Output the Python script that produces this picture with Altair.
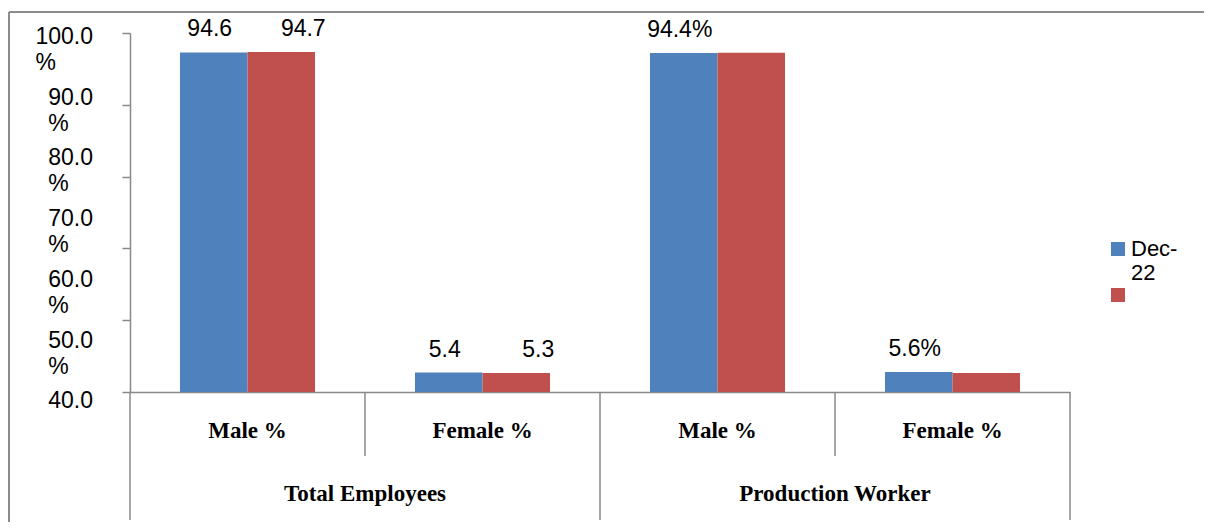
import altair as alt
import pandas as pd

# ---- data ----
groups = ["Total Employees", "Total Employees", "Production Worker", "Production Worker"]
subcats = ["Male %", "Female %", "Male %", "Female %"]
series = ["Dec-22", "Dec-23"]
values_s1 = [94.6, 5.4, 94.4, 5.6]
values_s2 = [94.7, 5.3, 94.5, 5.3]
labels_s1 = ["94.6", "5.4", "94.4%", "5.6%"]
labels_s2 = ["94.7", "5.3", "", ""]
y_tick_values = [0, 10, 20, 30, 40, 50, 60, 70, 80, 90, 100]
y_label_values = [100, 90, 80, 70, 60, 50, 40]
group_names = ["Total Employees", "Production Worker"]
colors = ["#4F81BD", "#C0504D"]

cats = [g + " / " + s for g, s in zip(groups, subcats)]
rows = []
for i in range(len(cats)):
    for s, vals, labs in ((series[0], values_s1, labels_s1), (series[1], values_s2, labels_s2)):
        rows.append(dict(cat=cats[i], group=groups[i], sub=subcats[i], series=s,
                         value=vals[i], label=labs[i]))
df = pd.DataFrame(rows)
df_cats = pd.DataFrame(dict(cat=cats, group=groups, sub=subcats))
df_groups = pd.DataFrame(dict(group=group_names))
df_ylab = pd.DataFrame(dict(v=y_label_values))
df_one = pd.DataFrame(dict(a=[0]))

W, H = 940, 359
GRAY = "#898989"
SANS = "Liberation Sans"
SERIF = "Liberation Serif"
NUM_FS = 23
CAT_FS = 23

x_scale = alt.Scale(domain=cats, paddingInner=0, paddingOuter=0)
xoff_scale = alt.Scale(domain=series, paddingInner=0, paddingOuter=0.74)
y_scale = alt.Scale(domain=[0, 100], nice=False, zero=True)

bars = alt.Chart(df).mark_bar().encode(
    x=alt.X("cat:N", sort=cats, scale=x_scale,
            axis=alt.Axis(labels=False, ticks=False, title=None, domain=True,
                          domainColor=GRAY, domainWidth=1.5)),
    xOffset=alt.XOffset("series:N", sort=series, scale=xoff_scale),
    y=alt.Y("value:Q", scale=y_scale,
            axis=alt.Axis(values=y_tick_values, labels=False, title=None, grid=False,
                          tickSize=8, tickColor=GRAY, tickWidth=1.5,
                          domainColor=GRAY, domainWidth=1.5)),
    color=alt.Color("series:N", sort=series,
                    scale=alt.Scale(domain=series, range=colors),
                    legend=alt.Legend(orient="none", legendX=977, legendY=205, title=None,
                                      symbolType="square", symbolSize=196,
                                      symbolStrokeWidth=0, padding=0, rowPadding=0,
                                      labelFont=SANS, labelFontSize=22, labelColor="black",
                                      labelOffset=2,
                                      labelExpr="datum.label == 'Dec-22' ? ['Dec-', '22'] : ''")),
)

def value_text(s, dx):
    return alt.Chart(df).transform_filter(
        (alt.datum.series == s) & (alt.datum.label != "")
    ).mark_text(font=SANS, fontSize=NUM_FS, color="black", baseline="middle", dy=-23, dx=dx).encode(
        x=alt.X("cat:N", sort=cats, scale=x_scale),
        xOffset=alt.XOffset("series:N", sort=series, scale=xoff_scale),
        y=alt.Y("value:Q", scale=y_scale),
        text="label:N",
    )

sub_labels = alt.Chart(df_cats).mark_text(
    font=SERIF, fontWeight="bold", fontSize=CAT_FS, color="black", baseline="middle"
).encode(
    x=alt.X("cat:N", sort=cats, scale=x_scale),
    y=alt.value(H + 39),
    text="sub:N",
)

def separators(test, length):
    return alt.Chart(df_cats).transform_filter(test).mark_rule(color=GRAY, strokeWidth=1.5).encode(
        x=alt.X("cat:N", sort=cats, scale=x_scale, bandPosition=0),
        y=alt.value(H),
        y2=alt.value(H + length),
    )

outer_sep = separators("datum.sub == 'Male %'", 128)
inner_sep = separators("datum.sub != 'Male %'", 64)
end_sep = alt.Chart(df_one).mark_rule(color=GRAY, strokeWidth=1.5).encode(
    x=alt.value(W), y=alt.value(H), y2=alt.value(H + 128)
)

main = alt.layer(bars, value_text(series[0], -4), value_text(series[1], 22),
                 sub_labels, outer_sep, inner_sep, end_sep)

# y-axis labels (as drawn in the reference: wrapped "NN.N" / "%")
ylab_scale = alt.Scale(domain=[41.56, 100.61], nice=False, zero=False)
ylab_num = alt.Chart(df_ylab).transform_calculate(
    num="format(datum.v, '.1f')"
).mark_text(font=SANS, fontSize=NUM_FS, color="black", align="right", baseline="middle").encode(
    x=alt.value(-37),
    y=alt.Y("v:Q", scale=ylab_scale, axis=None),
    text="num:N",
)
ylab_pct = alt.Chart(df_ylab).transform_filter(alt.datum.v >= 50).transform_calculate(
    num="format(datum.v, '.1f')"
).transform_calculate(
    px=f"-37 - {NUM_FS} * (0.556 * (length(datum.num) - 1) + 0.278)"
).mark_text(font=SANS, fontSize=NUM_FS, color="black", align="left", baseline="middle", dy=26).encode(
    x=alt.X("px:Q", scale=None, axis=None),
    y=alt.Y("v:Q", scale=ylab_scale, axis=None),
    text=alt.value("%"),
)

group_labels = alt.Chart(df_groups).mark_text(
    font=SERIF, fontWeight="bold", fontSize=CAT_FS, color="black", baseline="middle"
).encode(
    x=alt.X("group:N", sort=group_names,
            scale=alt.Scale(domain=group_names, paddingInner=0, paddingOuter=0), axis=None),
    y=alt.value(H + 102),
    text="group:N",
)

frame_top = alt.Chart(df_one).mark_rule(color="#8c8c8c", strokeWidth=2).encode(
    x=alt.value(-121), x2=alt.value(W + 300), y=alt.value(-21)
)
frame_left = alt.Chart(df_one).mark_rule(color="#8c8c8c", strokeWidth=2).encode(
    x=alt.value(-121), y=alt.value(-21), y2=alt.value(H + 300)
)

chart = alt.layer(
    main, ylab_num, ylab_pct, group_labels, frame_top, frame_left
).resolve_scale(
    x="independent", y="independent"
).properties(
    width=W, height=H,
    autosize=alt.AutoSizeParams(type="none"),
    padding={"left": 122, "top": 25, "right": 134, "bottom": 130},
    background="white",
).configure_view(stroke=None)

chart.save("out.html", embed_options={"renderer": "svg", "actions": False})
